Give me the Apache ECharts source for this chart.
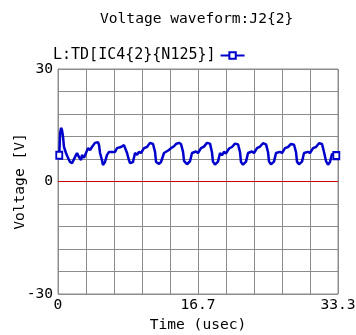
<!DOCTYPE html>
<html>
<head>
<meta charset="utf-8">
<script src="https://cdn.jsdelivr.net/npm/echarts@6/dist/echarts.min.js"></script>
<style>html,body{margin:0;padding:0;background:#fff}#c{width:356px;height:335px}</style>
</head>
<body>
<div id="c"></div>
<script>
const chartTitle = 'Voltage waveform:J2{2}';
const seriesName = 'L:TD[IC4{2}{N125}]';
const xTickLabels = ['0', '16.7', '33.3'];
const yTickLabels = ['-30', '0', '30'];
const timeUs = [
  0.15, 0.25, 0.36, 0.48, 0.6, 0.71, 0.95, 1.19, 1.43, 1.67, 1.78, 2.02, 2.26, 2.5, 2.74, 2.85, 3.09, 3.33, 3.57, 3.81, 4.04, 4.4, 4.76, 4.88, 5.0, 5.23, 5.35, 5.59, 5.83, 6.07,
  6.42, 6.78, 7.02, 7.25, 7.49, 7.85, 7.97, 8.21, 8.44, 8.56, 8.92, 9.16, 9.4, 9.63, 9.87, 10.23, 10.35, 10.58, 10.94, 11.3, 11.54, 11.66, 12.01, 12.25, 12.61, 12.84, 13.2, 13.44,
  13.8, 14.03, 14.39, 14.63, 14.87, 14.99, 15.34, 15.7, 15.94, 16.17, 16.41, 16.65, 17.01, 17.13, 17.36, 17.72, 18.08, 18.31, 18.43, 18.67,
  19.03, 19.27, 19.5, 19.74, 19.98, 20.34, 20.46, 20.69, 21.05, 21.41, 21.65, 21.76, 22.0,
  22.36, 22.6, 22.83, 23.07, 23.31, 23.67, 23.79, 24.02, 24.38, 24.74, 24.98, 25.1, 25.33,
  25.69, 25.93, 26.16, 26.4, 26.64, 27.0, 27.12, 27.35, 27.71, 28.07, 28.31, 28.42, 28.66,
  29.02, 29.26, 29.49, 29.73, 29.97, 30.33, 30.45, 30.68, 31.04, 31.4, 31.64, 31.88, 32.11,
  32.35, 32.59, 32.83, 33.1
];
const voltageV = [
  7.0, 12.9, 14.3, 13.7, 11.9, 9.2, 7.6, 6.3, 5.2, 4.9, 5.2, 6.5, 7.6, 6.5, 5.7, 7.1, 6.3, 7.6, 8.9, 8.4, 9.2, 10.3, 10.5, 9.7, 7.6, 5.7, 4.4, 5.2, 7.1, 7.9,
  7.9, 7.9, 8.9, 8.4, 9.2, 9.7, 9.2, 7.6, 5.7, 4.9, 5.2, 7.6, 7.1, 7.9, 7.6, 8.9, 8.4, 9.2, 10.3, 10.0, 7.9, 5.2, 4.7, 5.2, 7.6, 7.9, 8.4, 8.9,
  9.4, 10.0, 10.3, 10.0, 7.9, 5.5, 4.6, 5.4, 7.6, 7.2, 8.0, 7.6, 8.9, 8.5, 9.3, 10.3, 10.1, 7.8, 5.3, 4.5,
  5.3, 7.6, 7.0, 7.9, 7.5, 8.8, 8.4, 9.2, 10.1, 9.9, 7.8, 5.2, 4.5,
  5.3, 7.6, 7.1, 8.0, 7.6, 8.9, 8.4, 9.3, 10.2, 9.9, 7.8, 5.3, 4.6,
  5.3, 7.6, 7.1, 7.9, 7.6, 8.9, 8.4, 9.2, 10.0, 9.8, 7.8, 5.3, 4.6,
  5.3, 7.6, 7.1, 7.9, 7.6, 8.9, 8.4, 9.2, 10.2, 10.0, 7.8, 5.4, 4.5,
  5.2, 7.4, 7.0, 6.9
];

const FONT = 'DejaVu Sans Mono';
const last = timeUs.length - 1;
const seriesData = timeUs.map((t, i) => ({
  value: [t, voltageV[i]],
  symbol: (i === 0 || i === last) ? 'emptyRect' : 'none'
}));

function pickLabel(labels, total) {
  return function (v, idx) {
    const k = labels.length - 1;
    const step = total / k;
    for (let j = 0; j <= k; j++) {
      if (idx === j * step) return labels[j];
    }
    return '';
  };
}

const chart = echarts.init(document.getElementById('c'), null, {renderer: 'canvas'});
chart.setOption({
  animation: false,
  backgroundColor: '#fff',
  title: {
    text: chartTitle,
    left: 100, top: 12, padding: 0,
    textStyle: {fontFamily: FONT, fontSize: 14.6, fontWeight: 'normal', color: '#000'}
  },
  legend: {
    left: 53, top: 48, padding: 0,
    align: 'right',
    itemWidth: 24, itemHeight: 8, itemGap: 0,
    textStyle: {fontFamily: FONT, fontSize: 15, color: '#000', padding: [0, 0, 0, 0]},
    data: [seriesName]
  },
  grid: {left: 58, right: 18, top: 69, bottom: 41, show: true, borderColor: '#8c8c8c', borderWidth: 1,
         containLabel: false, outerBoundsMode: 'none'},
  xAxis: {
    type: 'value', min: 0, max: 33.3, interval: 3.33,
    name: 'Time (usec)', nameLocation: 'middle', nameGap: 24, nameMoveOverlap: false,
    nameTextStyle: {fontFamily: FONT, fontSize: 14.6, color: '#000'},
    axisLine: {show: true, lineStyle: {color: '#8c8c8c'}},
    axisTick: {show: false},
    splitLine: {show: true, lineStyle: {color: '#8c8c8c', width: 1}},
    axisLabel: {
      fontFamily: FONT, fontSize: 14.6, color: '#000', margin: 4,
      showMinLabel: true, showMaxLabel: true,
      formatter: pickLabel(xTickLabels, 10)
    }
  },
  yAxis: {
    type: 'value', min: -30, max: 30, interval: 6,
    name: 'Voltage [V]', nameLocation: 'middle', nameGap: 30, nameRotate: 90, nameMoveOverlap: false,
    nameTextStyle: {fontFamily: FONT, fontSize: 14.6, color: '#000'},
    axisLine: {show: true, lineStyle: {color: '#8c8c8c'}},
    axisTick: {show: false},
    splitLine: {show: true, lineStyle: {color: '#8c8c8c', width: 1}},
    axisLabel: {
      fontFamily: FONT, fontSize: 14.6, color: '#000', margin: 5,
      formatter: pickLabel(yTickLabels, 10)
    }
  },
  series: [{
    name: seriesName,
    type: 'line',
    data: seriesData,
    symbol: 'emptyRect',
    symbolSize: [6, 7],
    showSymbol: true,
    showAllSymbol: true,
    lineStyle: {color: '#0000cc', width: 2.5},
    itemStyle: {color: '#0000cc', borderColor: '#0000cc', borderWidth: 1.5},
    markLine: {
      silent: true, symbol: 'none', label: {show: false},
      lineStyle: {color: '#cc0000', width: 1, type: 'solid'},
      data: [{yAxis: 0}]
    },
    z: 3
  }]
});
</script>
</body>
</html>
